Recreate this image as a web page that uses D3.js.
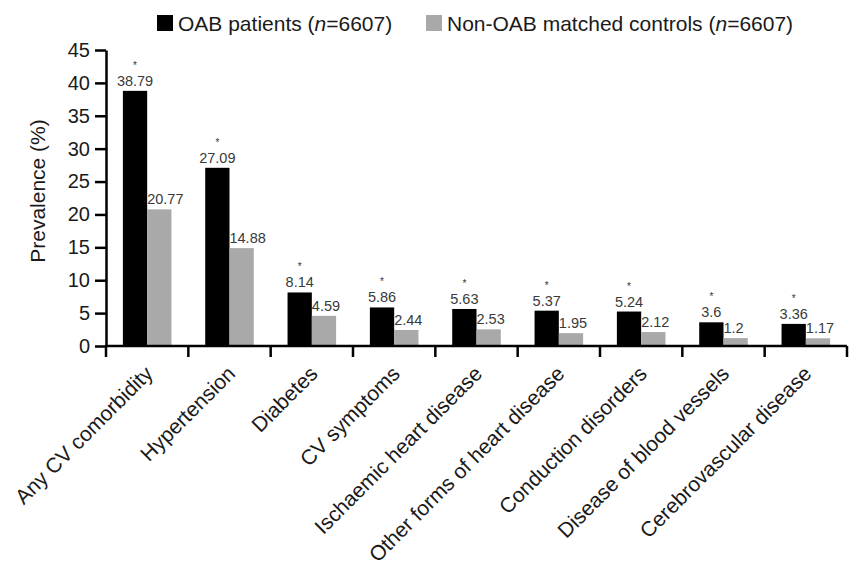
<!DOCTYPE html>
<html>
<head>
<meta charset="utf-8">
<script src="https://cdn.jsdelivr.net/npm/d3@7"></script>
<style>
  body { margin: 0; background: #fff; }
  svg { font-family: "Liberation Sans", Arial, Helvetica, sans-serif; }
</style>
</head>
<body>
<svg id="chart" width="850" height="567"></svg>
<script>
// Cardiovascular comorbidity prevalence, OAB patients vs matched controls
const categories = [
  "Any CV comorbidity", "Hypertension", "Diabetes", "CV symptoms",
  "Ischaemic heart disease", "Other forms of heart disease",
  "Conduction disorders", "Disease of blood vessels", "Cerebrovascular disease"
];
const oabValues = [38.79, 27.09, 8.14, 5.86, 5.63, 5.37, 5.24, 3.6, 3.36];
const controlValues = [20.77, 14.88, 4.59, 2.44, 2.53, 1.95, 2.12, 1.2, 1.17];
const significant = [true, true, true, true, true, true, true, true, true];
const yTicks = [0, 5, 10, 15, 20, 25, 30, 35, 40, 45];
const seriesNames = ["OAB patients", "Non-OAB matched controls"];
const sampleSizes = [6607, 6607];

const colors = ["#000000", "#a9a9a9"];
const svg = d3.select("#chart");
const margin = { left: 106, right: 3, top: 50, bottom: 221 };
const W = 850, H = 567;

const x = d3.scaleBand()
  .domain(categories)
  .range([margin.left, W - margin.right])
  .paddingInner(0.41)
  .paddingOuter(0.205);
const y = d3.scaleLinear().domain([0, 45]).range([H - margin.bottom, margin.top]);
const barW = x.bandwidth() / 2;

// Bars
const groups = svg.append("g").selectAll("g")
  .data(categories)
  .join("g")
  .attr("transform", d => `translate(${x(d)},0)`);

groups.append("rect")
  .attr("x", 0)
  .attr("y", (d, i) => y(oabValues[i]))
  .attr("width", barW)
  .attr("height", (d, i) => y(0) - y(oabValues[i]))
  .attr("fill", colors[0]);

groups.append("rect")
  .attr("x", barW)
  .attr("y", (d, i) => y(controlValues[i]))
  .attr("width", barW)
  .attr("height", (d, i) => y(0) - y(controlValues[i]))
  .attr("fill", colors[1]);

// Value labels
groups.append("text")
  .attr("x", barW / 2)
  .attr("y", (d, i) => y(oabValues[i]) - 5)
  .attr("text-anchor", "middle")
  .attr("font-size", 14.5)
  .attr("fill", "#3a3a3a")
  .text((d, i) => oabValues[i]);

groups.append("text")
  .attr("x", barW)
  .attr("y", (d, i) => y(controlValues[i]) - 5)
  .attr("text-anchor", "start")
  .attr("font-size", 14.5)
  .attr("fill", "#3a3a3a")
  .text((d, i) => controlValues[i]);

// Significance markers
groups.filter((d, i) => significant[i]).append("text")
  .attr("x", barW / 2)
  .attr("y", d => y(oabValues[categories.indexOf(d)]) - 22)
  .attr("text-anchor", "middle")
  .attr("font-size", 10)
  .attr("fill", "#333")
  .text("*");

// Y axis
const yAxis = svg.append("g")
  .attr("transform", `translate(${margin.left},0)`)
  .call(d3.axisLeft(y).tickValues(yTicks).tickSize(11).tickSizeOuter(0).tickPadding(5));
yAxis.select(".domain").attr("stroke", "#000").attr("stroke-width", 2.5);
yAxis.selectAll(".tick line").attr("stroke", "#000").attr("stroke-width", 2.5);
yAxis.selectAll(".tick text")
  .attr("font-size", 20).attr("fill", "#1a1a1a")
  .attr("font-family", "'Liberation Sans', Arial, sans-serif");

// X axis with ticks at category boundaries
const x0 = margin.left, x1 = W - margin.right;
const xAxisG = svg.append("g");
xAxisG.append("line")
  .attr("x1", x0 - 1).attr("x2", x1)
  .attr("y1", y(0)).attr("y2", y(0))
  .attr("stroke", "#000").attr("stroke-width", 2.5);
const boundaries = d3.range(categories.length + 1).map(i => x0 + i * (x1 - x0) / categories.length);
xAxisG.selectAll("line.tick")
  .data(boundaries)
  .join("line")
  .attr("class", "tick")
  .attr("x1", d => d).attr("x2", d => d)
  .attr("y1", y(0)).attr("y2", y(0) + 11)
  .attr("stroke", "#000").attr("stroke-width", 2.5);

// Category labels, rotated
xAxisG.selectAll("text.cat")
  .data(categories)
  .join("text")
  .attr("class", "cat")
  .attr("font-size", 21)
  .attr("fill", "#1a1a1a")
  .attr("text-anchor", "end")
  .attr("transform", d => `translate(${x(d) + x.bandwidth() / 2 + 7},${y(0) + 29}) rotate(-45)`)
  .text(d => d);

// Y axis title
svg.append("text")
  .attr("transform", `translate(45,191) rotate(-90)`)
  .attr("text-anchor", "middle")
  .attr("font-size", 21)
  .attr("fill", "#1a1a1a")
  .text("Prevalence (%)");

// Legend
const legendX = [157, 426];
const legend = svg.append("g");
seriesNames.forEach((name, i) => {
  const g = legend.append("g").attr("transform", `translate(${legendX[i]},15)`);
  g.append("rect").attr("width", 16).attr("height", 16).attr("fill", colors[i]);
  const t = g.append("text").attr("x", 21).attr("y", 16).attr("font-size", 21).attr("fill", "#1a1a1a");
  t.append("tspan").text(name + " (");
  t.append("tspan").attr("font-style", "italic").text("n");
  t.append("tspan").text("=" + sampleSizes[i] + ")");
});
</script>
</body>
</html>
